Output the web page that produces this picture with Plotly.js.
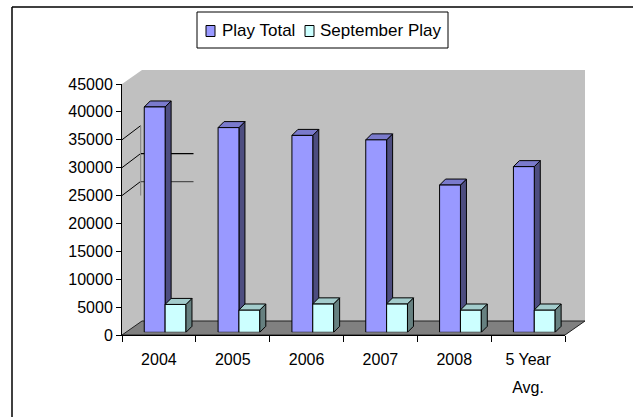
<!DOCTYPE html>
<html>
<head>
<meta charset="utf-8">
<script src="https://cdn.plot.ly/plotly-3.0.1.min.js"></script>
<style>html,body{margin:0;padding:0;background:#fff;}#chart{width:633px;height:417px;}</style>
</head>
<body>
<div id="chart"></div>
<script>
// ---- data ----
const categories = ['2004', '2005', '2006', '2007', '2008', '5 Year Avg.'];
const tickLabels = ['2004', '2005', '2006', '2007', '2008', '5 Year<br>Avg.'];
const playTotal = [40400, 36700, 35300, 34500, 26400, 29700];
const septemberPlay = [5000, 4000, 5100, 5100, 4000, 4000];
const seriesNames = ['Play Total', 'September Play'];
const yTicks = [0, 5000, 10000, 15000, 20000, 25000, 30000, 35000, 40000, 45000];

// ---- geometry (pixels) ----
const W = 633, H = 417;
const FX0 = 122, FX1 = 565, FYB = 335, FYT = 84;      // front plane of axes
const BDX = 20, BDY = 14;                              // depth of walls
const PDX = 6.2, PDY = 2.7;                            // plane of the bars
const DEPTH_PX = 6;                                    // bar depth (x and y)
const YMAX = 45000;
const BARGAP = 0.435;
const px = x => x / W, py = y => 1 - y / H;
const pxPerUnit = (FYB - FYT) / YMAX;
const frontY = v => FYB - v * pxPerUnit;
const backY = v => FYB - BDY - v * pxPerUnit;
const path = pts => 'M' + pts.map(p => px(p[0]) + ',' + py(p[1])).join('L') + 'Z';

const purple = '#9999FF', purpleTop = '#7A7ACC', purpleSide = '#4D4D80';
const cyan = '#CCFFFF', cyanTop = '#A3CCCC', cyanSide = '#668080';
const FONT = 'Liberation Sans, Arial, sans-serif';

// ---- walls & floor ----
const shapes = [];
shapes.push({type: 'path', xref: 'paper', yref: 'paper', layer: 'below',
  path: path([[FX0, FYB], [FX0, FYT], [FX0 + BDX, FYT - BDY], [FX1 + BDX, FYT - BDY], [FX1 + BDX, FYB - BDY], [FX1, FYB]]),
  fillcolor: '#C0C0C0', line: {width: 0}});
shapes.push({type: 'path', xref: 'paper', yref: 'paper', layer: 'below',
  path: path([[FX0, FYB], [FX1, FYB], [FX1 + BDX, FYB - BDY], [FX0 + BDX, FYB - BDY]]),
  fillcolor: '#808080', line: {color: '#222', width: 1}});
// leftover gridline fragments on the walls
[35000, 30000, 25000].forEach(v => {
  shapes.push({type: 'line', xref: 'paper', yref: 'paper', layer: 'below',
    x0: px(FX0), y0: py(frontY(v)), x1: px(FX0 + 18.5), y1: py(backY(v)),
    line: {color: '#000', width: 1}});
});
shapes.push({type: 'line', xref: 'paper', yref: 'paper', layer: 'below',
  x0: px(FX0 + 18.7), y0: py(backY(35000)), x1: px(FX0 + 18.7), y1: py(frontY(25000)),
  line: {color: '#808080', width: 1}});
[[30000, '#000'], [25000, '#505050']].forEach(([v, c]) => {
  shapes.push({type: 'line', xref: 'paper', yref: 'paper', layer: 'below',
    x0: px(FX0 + 19), y0: py(backY(v)), x1: px(193.5), y1: py(backY(v)),
    line: {color: c, width: 1.3}});
});
// outer border (left and top only visible)
shapes.push({type: 'line', xref: 'paper', yref: 'paper', x0: px(12), y0: py(7), x1: px(640), y1: py(7), line: {color: '#000', width: 1.5}});
shapes.push({type: 'line', xref: 'paper', yref: 'paper', x0: px(12), y0: py(7), x1: px(12), y1: py(430), line: {color: '#000', width: 1.5}});

// ---- legend (box, swatches, labels) ----
const LEG = {x0: 197, x1: 448, y0: 12, y1: 48};
const swatchX = [206, 305], textX = [220, 318], legColors = [purple, cyan];
shapes.push({type: 'rect', xref: 'paper', yref: 'paper', x0: px(LEG.x0), x1: px(LEG.x1), y0: py(LEG.y0), y1: py(LEG.y1),
  fillcolor: '#fff', line: {color: '#000', width: 1}});
const annotations = [];
seriesNames.forEach((n, k) => {
  shapes.push({type: 'rect', xref: 'paper', yref: 'paper', x0: px(swatchX[k]), x1: px(swatchX[k] + 9), y0: py(25.5), y1: py(36.5),
    fillcolor: legColors[k], line: {color: '#000', width: 1}});
  annotations.push({xref: 'paper', yref: 'paper', x: px(textX[k]), y: py(31), xanchor: 'left', yanchor: 'middle',
    text: n, showarrow: false, font: {family: FONT, size: 17, color: '#000'}});
});

// ---- 3D faces of bars (in bar-plane axes x2/y2) ----
const catPx = (FX1 - FX0) / categories.length;
const dxD = DEPTH_PX / catPx, dyD = DEPTH_PX / pxPerUnit;
const bw = (1 - BARGAP) / 2;
function faces(vals, x0off, topC, sideC, layer) {
  vals.forEach((v, i) => {
    const l = i + x0off, r = l + bw;
    shapes.push({type: 'path', xref: 'x2', yref: 'y2', layer: layer,
      path: `M${r},0L${r + dxD},${dyD}L${r + dxD},${v + dyD}L${r},${v}Z`,
      fillcolor: sideC, line: {color: '#000', width: 1}});
    shapes.push({type: 'path', xref: 'x2', yref: 'y2', layer: layer,
      path: `M${l},${v}L${l + dxD},${v + dyD}L${r + dxD},${v + dyD}L${r},${v}Z`,
      fillcolor: topC, line: {color: '#000', width: 1}});
  });
}
faces(playTotal, -bw, purpleTop, purpleSide, 'between');
faces(septemberPlay, 0, cyanTop, cyanSide, 'above');

const data = [
  {type: 'scatter', x: categories, y: categories.map(() => 0), xaxis: 'x', yaxis: 'y',
   mode: 'markers', marker: {opacity: 0}, showlegend: false, hoverinfo: 'skip'},
  {type: 'bar', name: seriesNames[0], x: categories, y: playTotal, xaxis: 'x2', yaxis: 'y2',
   marker: {color: purple, line: {color: '#000', width: 1}}},
  {type: 'bar', name: seriesNames[1], x: categories, y: septemberPlay, xaxis: 'x2', yaxis: 'y2',
   marker: {color: cyan, line: {color: '#000', width: 1}}}
];

const layout = {
  width: W, height: H,
  margin: {l: 0, r: 0, t: 0, b: 0},
  paper_bgcolor: '#fff', plot_bgcolor: 'rgba(0,0,0,0)',
  font: {family: FONT, size: 16, color: '#000'},
  showlegend: false,
  barmode: 'group', bargap: BARGAP, bargroupgap: 0,
  xaxis: {domain: [px(FX0), px(FX1)], type: 'category', categoryorder: 'array', categoryarray: categories,
    range: [-0.5, categories.length - 0.5], tickmode: 'array', tickvals: categories, ticktext: tickLabels,
    tickson: 'boundaries', ticks: 'outside', ticklen: 6, tickcolor: '#000', showline: true, linecolor: '#000', linewidth: 1,
    ticklabelstandoff: 10,
    showgrid: false, zeroline: false, fixedrange: true, anchor: 'y', tickfont: {family: FONT, size: 16}},
  yaxis: {domain: [py(FYB), py(FYT)], range: [0, YMAX], tickmode: 'array', tickvals: yTicks, tickformat: 'd',
    ticks: 'outside', ticklen: 5, tickcolor: '#000', showline: true, linecolor: '#000', linewidth: 1,
    showgrid: false, zeroline: false, anchor: 'x', tickfont: {family: FONT, size: 16}},
  xaxis2: {domain: [px(FX0 + PDX), px(FX1 + PDX)], type: 'category', categoryorder: 'array', categoryarray: categories,
    range: [-0.5, categories.length - 0.5], visible: false, anchor: 'y2'},
  yaxis2: {domain: [py(FYB - PDY), py(FYT - PDY)], range: [0, YMAX], visible: false, anchor: 'x2'},
  shapes: shapes,
  annotations: annotations
};

Plotly.newPlot('chart', data, layout, {staticPlot: true}).then(() => {
  document.querySelectorAll('.xaxislayer-above .xtick text').forEach(t => {
    const lines = t.querySelectorAll('tspan.line');
    lines.forEach((s, k) => { if (k > 0) s.setAttribute('dy', '1.72em'); });
  });
});
</script>
</body>
</html>
